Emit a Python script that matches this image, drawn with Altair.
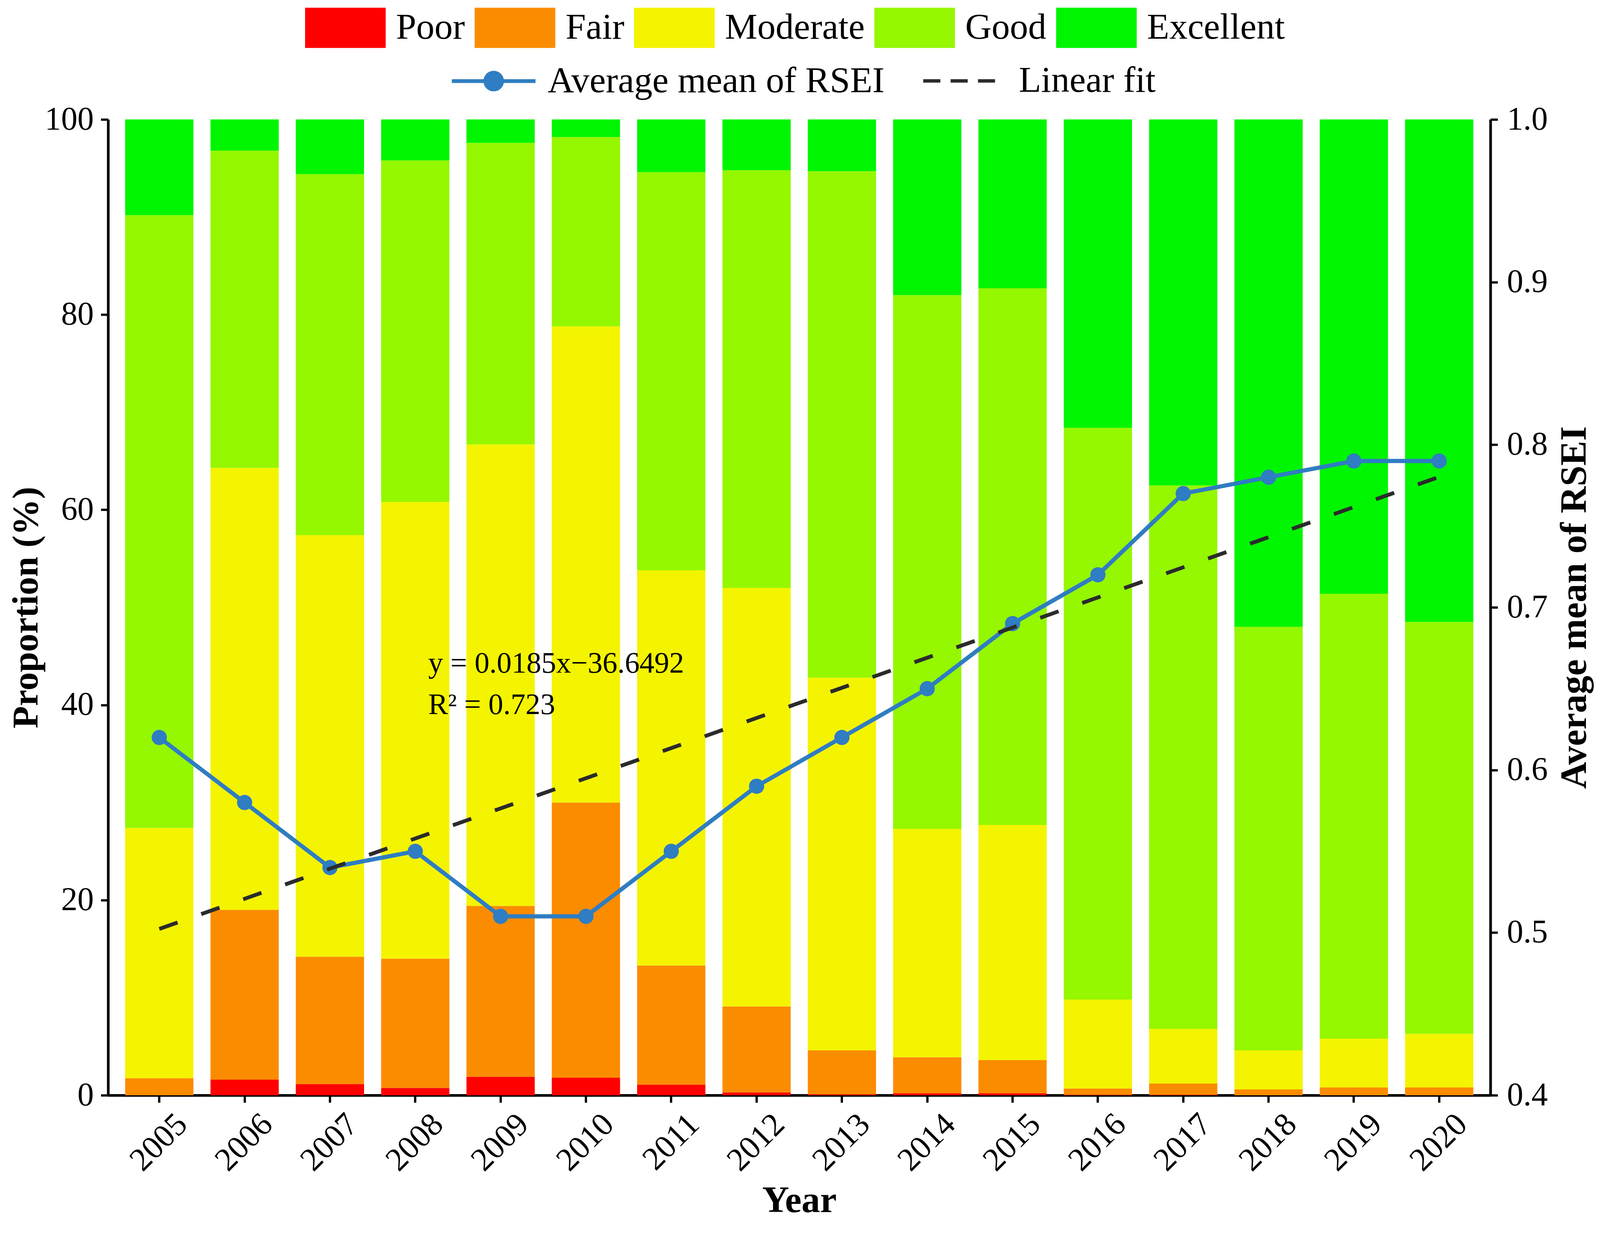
import pandas as pd
import altair as alt

# proportion of each RSEI grade per year (%)
years = list(range(2005, 2021))
classes = ["Poor", "Fair", "Moderate", "Good", "Excellent"]
class_colors = ["#FF0000", "#FB8C00", "#F4F400", "#95F700", "#00F500"]

poor = [0.0, 1.6, 1.15, 0.75, 1.9, 1.8, 1.1, 0.3, 0.1, 0.2, 0.2, 0.05, 0.05, 0.0, 0.0, 0.0]
fair = [1.75, 17.4, 13.05, 13.25, 17.5, 28.2, 12.2, 8.8, 4.5, 3.7, 3.4, 0.65, 1.15, 0.6, 0.8, 0.8]
moderate = [25.65, 45.3, 43.2, 46.8, 47.3, 48.8, 40.5, 42.9, 38.2, 23.4, 24.1, 9.1, 5.6, 4.0, 5.0, 5.5]
good = [62.8, 32.5, 37.0, 35.0, 30.9, 19.4, 40.8, 42.8, 51.9, 54.7, 55.0, 58.6, 55.7, 43.4, 45.6, 42.2]
excellent = [9.8, 3.2, 5.6, 4.2, 2.4, 1.8, 5.4, 5.2, 5.3, 18.0, 17.3, 31.6, 37.5, 52.0, 48.6, 51.5]

# average mean of RSEI per year
rsei = [0.62, 0.58, 0.54, 0.55, 0.51, 0.51, 0.55, 0.59, 0.62, 0.65, 0.69, 0.72, 0.77, 0.78, 0.79, 0.79]

rsei_name = "Average mean of RSEI"
fit_name = "Linear fit"
rsei_color = "#2F7DC2"
fit_color = "#2B2B2B"

eq_text = ["y = 0.0185x\u221236.6492", "R\u00b2 = 0.723"]
eq_year = [2008, 2008]
eq_pos = [43.3, 39.05]

FONT = "Liberation Serif"

# long table for the stacked bars
shares = [poor, fair, moderate, good, excellent]
rows = []
for k, name in enumerate(classes):
    for i, yr in enumerate(years):
        rows.append({"Year": yr, "Class": name, "idx": k, "value": shares[k][i]})
bars_df = pd.DataFrame(rows)

rsei_df = pd.DataFrame({"Year": years, "RSEI": rsei, "series": rsei_name})
eq_df = pd.DataFrame({"Year": eq_year, "value": eq_pos, "text": eq_text})

x_enc = alt.X(
    "Year:O",
    title="Year",
    scale=alt.Scale(paddingInner=0.2, paddingOuter=0.2),
    axis=alt.Axis(
        labelAngle=315, labelAlign="right", labelBaseline="top", labelPadding=14,
        labelOffset=30, titleBaseline="alphabetic", titleY=307,
    ),
)

legend_text = dict(labelFont=FONT, labelFontSize=96, labelColor="black", labelLimit=2000,
                   labelOffset=27, title=None, padding=0, orient="none", direction="horizontal")

bar_legend = alt.Legend(
    legendX=518, legendY=-347, symbolType="M-1,-0.5H1V0.5H-1Z", symbolSize=44944,
    symbolStrokeWidth=0, symbolOpacity=1, columnPadding=25, **legend_text,
)

left_axis = alt.Axis(values=[0, 20, 40, 60, 80, 100], titleX=-186, titleAngle=270,
                     titleBaseline="alphabetic", titleFontSize=96)
left_scale = alt.Scale(domain=[0, 100], nice=False)

bars = alt.Chart(bars_df).mark_bar(opacity=1).encode(
    x=x_enc,
    y=alt.Y("value:Q", stack="zero", title="Proportion (%)", scale=left_scale, axis=left_axis),
    color=alt.Color("Class:N", scale=alt.Scale(domain=classes, range=class_colors),
                    legend=bar_legend),
    order=alt.Order("idx:Q", sort="ascending"),
)

eq = alt.Chart(eq_df).mark_text(
    font=FONT, fontSize=78, align="left", baseline="alphabetic", dx=34, color="black"
).encode(
    x="Year:O",
    y=alt.Y("value:Q", title="Proportion (%)", scale=left_scale, axis=left_axis),
    text="text:N",
)

rsei_legend = alt.Legend(
    legendX=899, legendY=-216, symbolSize=48400, symbolStrokeWidth=10,
    symbolType="M-1,0H1M-0.2,0A0.2,0.2,0,1,1,0.2,0A0.2,0.2,0,1,1,-0.2,0",
    symbolFillColor=rsei_color, symbolOpacity=1, **legend_text,
)
fit_legend = alt.Legend(
    legendX=2139, legendY=-216, symbolSize=48400, symbolStrokeWidth=9,
    symbolType="M-1,0H-0.59M-0.345,0H0.064M0.309,0H0.718",
    symbolStrokeColor=fit_color, symbolOpacity=1, **legend_text,
)

y2 = alt.Y(
    "RSEI:Q", title="Average mean of RSEI",
    scale=alt.Scale(domain=[0.4, 1.0], nice=False, zero=False),
    axis=alt.Axis(values=[0.4, 0.5, 0.6, 0.7, 0.8, 0.9, 1.0], format=".1f", orient="right",
                  titleX=251, titleAngle=270, titleBaseline="alphabetic", labelPadding=24),
)

line = alt.Chart(rsei_df).mark_line(strokeWidth=11).encode(
    x="Year:O", y=y2,
    stroke=alt.Stroke("series:N", scale=alt.Scale(domain=[rsei_name], range=[rsei_color]),
                      legend=rsei_legend),
)
points = alt.Chart(rsei_df).mark_circle(size=1600, opacity=1, color=rsei_color).encode(
    x="Year:O", y=alt.Y("RSEI:Q"),
)
fit = alt.Chart(rsei_df).transform_regression(
    "Year", "RSEI", method="linear"
).transform_calculate(fit="'Linear fit'").mark_line(strokeWidth=10, color=fit_color).encode(
    x="Year:O", y=alt.Y("RSEI:Q"),
    strokeDash=alt.StrokeDash("fit:N", scale=alt.Scale(domain=[fit_name], range=[[51, 66]]),
                              legend=fit_legend),
)

left = alt.layer(bars, eq)
right = alt.layer(line, points, fit)

chart = alt.layer(left, right).resolve_scale(y="independent").properties(
    width=3635, height=2566,
    autosize=alt.AutoSizeParams(type="none"),
    padding={"left": 276, "top": 263, "right": 280, "bottom": 330},
).configure_view(stroke=None).configure_axis(
    labelFont=FONT, labelFontSize=86, labelColor="black",
    titleFont=FONT, titleFontSize=98, titleFontWeight="bold", titleColor="black",
    titleLimit=4000, labelLimit=1000,
    domainColor="black", domainWidth=7, tickColor="black", tickWidth=6, tickSize=19,
    labelPadding=19, grid=False,
)

chart.save("out.html", embed_options={"renderer": "svg", "actions": False})
